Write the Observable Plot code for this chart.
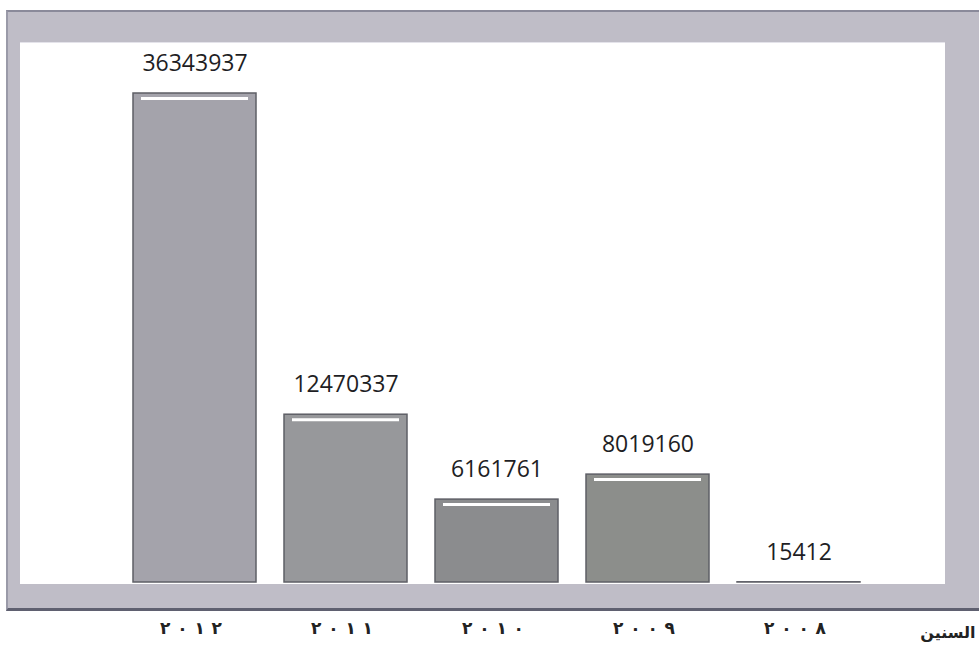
<!DOCTYPE html>
<html><head><meta charset="utf-8">
<script src="https://cdn.jsdelivr.net/npm/d3@7"></script>
<script src="https://cdn.jsdelivr.net/npm/@observablehq/plot@0.6"></script>
<style>
html,body{margin:0;padding:0;background:#fff;}
#wrap{position:relative;width:979px;height:645px;overflow:hidden;}
#frame{position:absolute;left:6px;top:10px;width:980px;height:601px;background:#bfbdc7;border-top:2px solid #8a8a9a;border-left:2px solid #9a9aa8;border-bottom:3px solid #5f6070;box-sizing:border-box;}
#inner{position:absolute;left:20px;top:42px;width:925px;height:541px;background:#fff;border-top:1px solid #e4e3ea;}
#chart{position:absolute;left:0;top:0;}
#chart svg{background:transparent !important;}
</style></head>
<body><div id="wrap"><div id="frame"></div><div id="inner"></div><div id="chart"></div></div>
<script>
const years = ["٢٠١٢","٢٠١١","٢٠١٠","٢٠٠٩","٢٠٠٨"];
const values = [36343937, 12470337, 6161761, 8019160, 15412];
const barColors = ["#a4a3ab", "#97989b", "#8b8c8e", "#8c8e8b", "#7f7fa8"];
const axisTitle = "السنين";
const data = years.map((y,i)=>({year:y, value:values[i], color:barColors[i]}));

const chart = Plot.plot({
  width: 979, height: 645,
  marginLeft: 105, marginRight: 91, marginTop: 93, marginBottom: 63,
  style: {background: "transparent", fontFamily: "'DejaVu Sans', sans-serif"},
  x: {domain: years, padding: 0.185, label: null},
  y: {domain: [0, 36343937], axis: null},
  marks: [
    Plot.barY(data, {x: "year", y: "value", fill: "color", stroke: "#5e5f66", strokeWidth: 1.5}),
    Plot.tickY(data.filter(d => d.value > 1e6), {x: "year", y: "value", stroke: "#ffffff", strokeWidth: 3, dy: 5, inset: 8}),
    Plot.text(data, {x: "year", y: "value", text: d => String(d.value), dy: -30, lineAnchor: "middle",
      fontSize: 23, fill: "#1e1e24", fontFamily: "'Open Sans', sans-serif"}),
    Plot.axisX({domain: years, tickSize: 0, tickPadding: 39, dx: -4, fontSize: 17, fontWeight: "bold", fill: "#222", label: null}),
    Plot.text([axisTitle], {frameAnchor: "bottom-right", text: d => d, dx: 87, dy: 50, lineAnchor: "middle", fontSize: 16, fontWeight: "bold", fill: "#222", fontFamily: "'DejaVu Sans', sans-serif"})
  ]
});
document.getElementById("chart").appendChild(chart);
d3.select(chart).selectAll('g[aria-label="x-axis tick label"] text')
  .attr("textLength", 62).attr("lengthAdjust", "spacing");
</script></body></html>
